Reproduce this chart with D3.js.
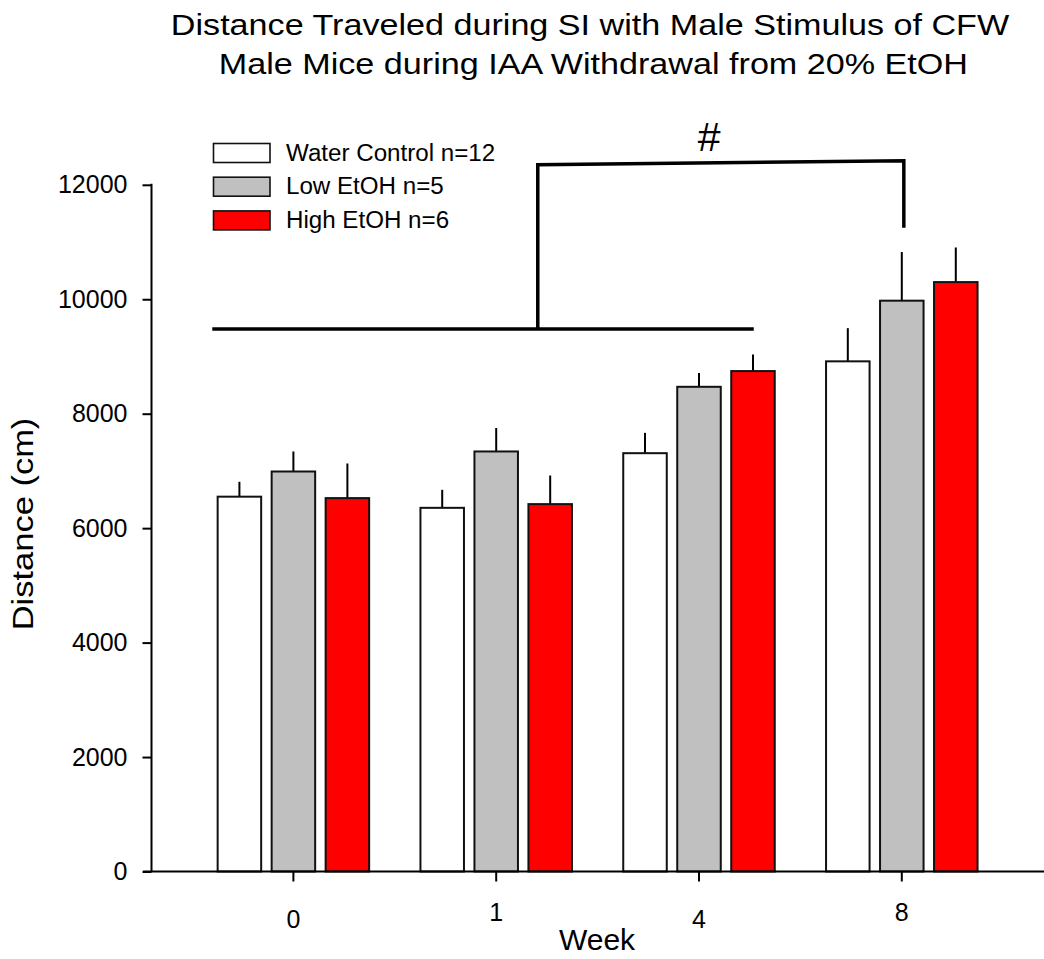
<!DOCTYPE html>
<html>
<head>
<meta charset="utf-8">
<script src="https://cdn.jsdelivr.net/npm/d3@7"></script>
<style>
  body { margin: 0; background: #fff; }
  svg { font-family: Arial, "Liberation Sans", sans-serif; }
</style>
</head>
<body>
<div id="chart"></div>
<script>
var width = 1044,
	height = 959;

// data
var weeks = ['0', '1', '4', '8'];
var groups = ['Water Control n=12', 'Low EtOH n=5', 'High EtOH n=6'];
var colors = ['#ffffff', '#c0c0c0', '#ff0000'];
var waterMean = [6550, 6355, 7310, 8915];
var waterErr = [260, 315, 355, 580];
var lowMean = [6990, 7340, 8470, 9975];
var lowErr = [350, 410, 240, 850];
var highMean = [6525, 6420, 8745, 10300];
var highErr = [605, 500, 290, 605];
var yTicks = [0, 2000, 4000, 6000, 8000, 10000, 12000];

// significance bracket, x in week-index units, y in cm
var bracketLow = [[-0.40, 9480], [2.27, 9480]];
var bracketHigh = [[1.205, 9480], [1.205, 12350], [3.01, 12420], [3.01, 11250]];
var bracketMark = '#';

var means = [waterMean, lowMean, highMean],
	errs = [waterErr, lowErr, highErr];

var rows = [];
weeks.forEach(function(w, i) {
	groups.forEach(function(g, j) {
		rows.push({week: w, group: g, color: colors[j], mean: means[j][i], err: errs[j][i]});
	});
});

var svg = d3.select('#chart').append('svg')
	.attr('width', width)
	.attr('height', height);

var x = d3.scaleBand()
	.domain(weeks)
	.range([192, 1003.2]);

var xIdx = d3.scaleLinear()
	.domain([0, 3])
	.range([x('0') + x.bandwidth() / 2, x('8') + x.bandwidth() / 2]);

var inner = d3.scaleBand()
	.domain(groups)
	.range([-75.75, 75.75])
	.paddingInner(0.194);

var y = d3.scaleLinear()
	.domain([0, 12000])
	.range([871.5, 184.8]);

function barCenter(d) {
	return x(d.week) + x.bandwidth() / 2 + inner(d.group) + inner.bandwidth() / 2;
}

// title (the original type is a little wider than Arial)
svg.append('g')
	.attr('transform', 'translate(590,0) scale(1.138,1)')
	.append('text')
	.attr('text-anchor', 'middle')
	.style('font-size', '30px')
	.selectAll('tspan')
	.data(['Distance Traveled during SI with Male Stimulus of CFW', 'Male Mice during IAA Withdrawal from 20% EtOH'])
	.enter()
	.append('tspan')
	.attr('x', function(d, i) { return i * 3; })
	.attr('y', function(d, i) { return 35 + i * 39; })
	.text(function(d) { return d; });

// bars
var bars = svg.append('g').classed('bars', true);

bars.selectAll('line.err')
	.data(rows)
	.enter()
	.append('line')
	.classed('err', true)
	.attr('x1', barCenter)
	.attr('x2', barCenter)
	.attr('y1', function(d) { return y(d.mean); })
	.attr('y2', function(d) { return y(d.mean + d.err); })
	.attr('stroke', '#000')
	.attr('stroke-width', 2);

bars.selectAll('rect.bar')
	.data(rows)
	.enter()
	.append('rect')
	.classed('bar', true)
	.attr('x', function(d) { return x(d.week) + x.bandwidth() / 2 + inner(d.group); })
	.attr('y', function(d) { return y(d.mean); })
	.attr('width', inner.bandwidth())
	.attr('height', function(d) { return y(0) - y(d.mean); })
	.attr('fill', function(d) { return d.color; })
	.attr('stroke', '#111')
	.attr('stroke-width', 2);

// axes
var yAxis = svg.append('g')
	.attr('transform', 'translate(151.5,0)')
	.call(d3.axisLeft(y).tickValues(yTicks).tickSize(9).tickPadding(15).tickFormat(d3.format('d')));
yAxis.select('.domain').remove();
yAxis.selectAll('line').attr('stroke-width', 2);
yAxis.selectAll('text').style('font-size', '25px').style('font-family', 'Arial, "Liberation Sans", sans-serif').attr('fill', '#000');

svg.append('line')
	.attr('x1', 151.5).attr('x2', 151.5)
	.attr('y1', y(12000) - 1).attr('y2', y(0))
	.attr('stroke', '#000').attr('stroke-width', 2);

var xAxis = svg.append('g')
	.attr('transform', 'translate(0,' + y(0) + ')')
	.call(d3.axisBottom(x).tickSize(10).tickPadding(29));
xAxis.select('.domain').remove();
xAxis.selectAll('line').attr('stroke-width', 2);
xAxis.selectAll('text')
	.style('font-size', '25px')
	.style('font-family', 'Arial, "Liberation Sans", sans-serif')
	.attr('fill', '#000')
	.attr('transform', function(d, i) { return i % 2 ? 'translate(0,-7.5)' : null; });

svg.append('line')
	.attr('x1', 143).attr('x2', width)
	.attr('y1', y(0)).attr('y2', y(0))
	.attr('stroke', '#000').attr('stroke-width', 2);

// axis titles
svg.append('text')
	.attr('transform', 'translate(33,524) rotate(-90) scale(1.15,1)')
	.attr('text-anchor', 'middle')
	.style('font-size', '30px')
	.text('Distance (cm)');

svg.append('text')
	.attr('x', 597)
	.attr('y', 950)
	.attr('text-anchor', 'middle')
	.style('font-size', '30px')
	.text('Week');

// legend
var legend = svg.append('g')
	.selectAll('g')
	.data(groups)
	.enter()
	.append('g')
	.attr('transform', function(d, i) { return 'translate(213.5,' + (143.5 + i * 33.7) + ')'; });

legend.append('rect')
	.attr('width', 56.5)
	.attr('height', 19)
	.attr('fill', function(d, i) { return colors[i]; })
	.attr('stroke', '#111')
	.attr('stroke-width', 1.6);

legend.append('text')
	.attr('transform', 'translate(72.5,17.2) scale(1.05,1)')
	.style('font-size', '23px')
	.text(function(d) { return d; });

// bracket
var line = d3.line()
	.x(function(d) { return xIdx(d[0]); })
	.y(function(d) { return y(d[1]); });

svg.append('path')
	.attr('d', line(bracketLow))
	.attr('fill', 'none')
	.attr('stroke', '#000')
	.attr('stroke-width', 3.5);

svg.append('path')
	.attr('d', line(bracketHigh))
	.attr('fill', 'none')
	.attr('stroke', '#000')
	.attr('stroke-width', 3.5);

svg.append('text')
	.attr('x', xIdx(2.05))
	.attr('y', 151)
	.attr('text-anchor', 'middle')
	.style('font-size', '41px')
	.text(bracketMark);
</script>
</body>
</html>
